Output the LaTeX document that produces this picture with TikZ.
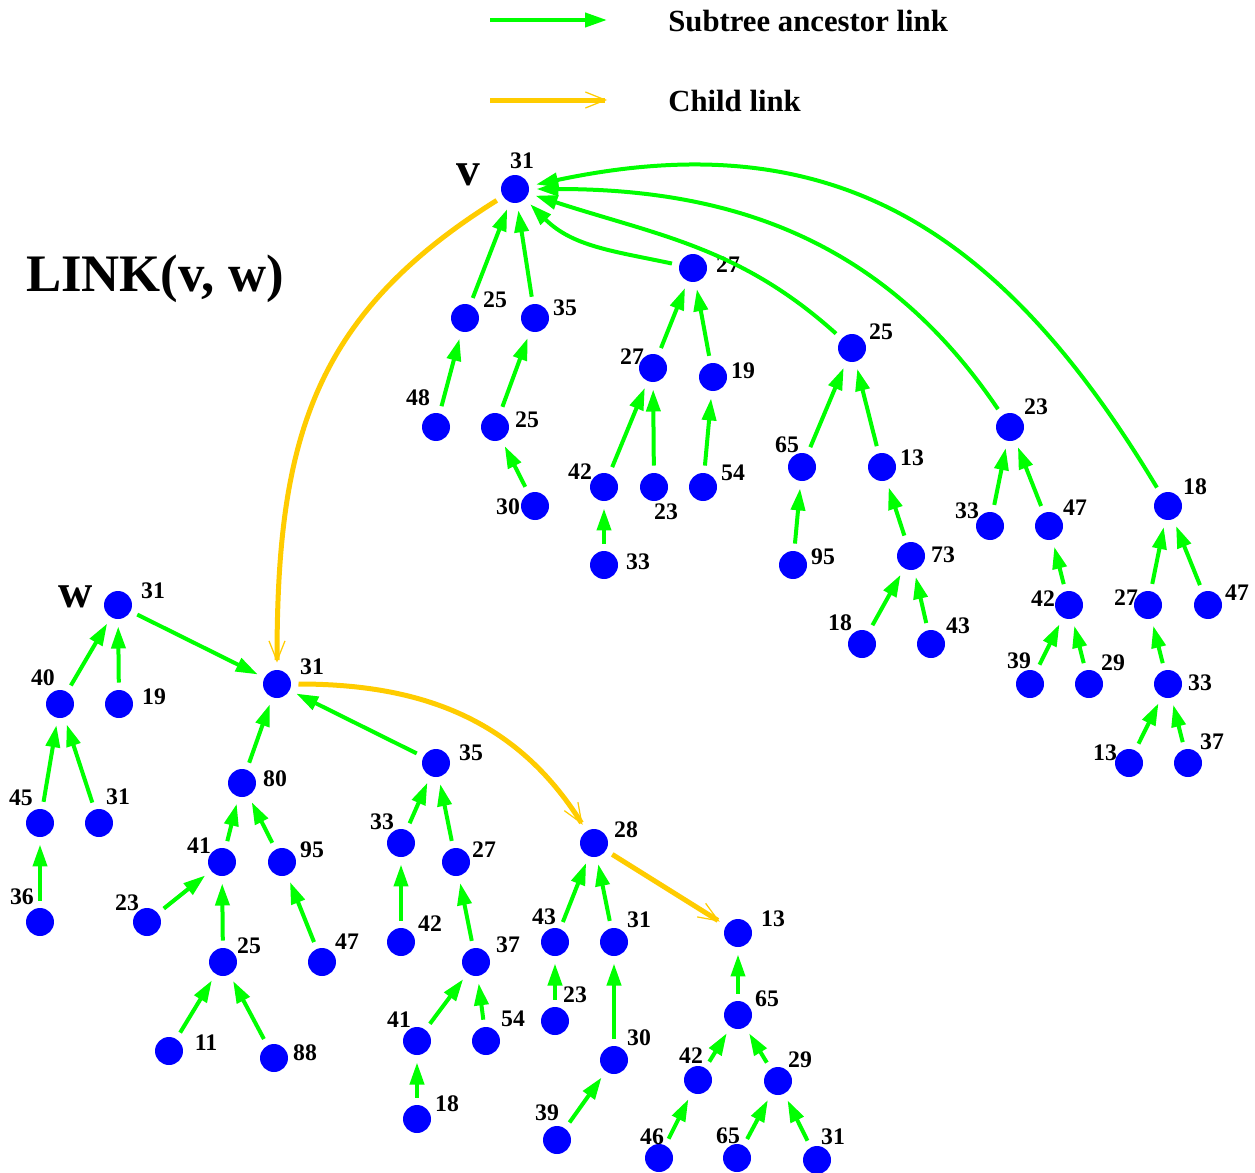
\documentclass[tikz,border=0pt]{standalone}
\usepackage{fontspec}
\setmainfont{Liberation Serif}
\usetikzlibrary{arrows.meta}
\definecolor{linkgreen}{RGB}{0,255,0}
\definecolor{linkgold}{RGB}{255,204,0}
\definecolor{nodeblue}{RGB}{0,0,255}

\begin{document}
\begin{tikzpicture}[x=0.02cm, y=-0.02cm,
  vx/.style={circle, fill=nodeblue, minimum size=0.56cm, inner sep=0pt, outer sep=0.15cm},
  num/.style={font=\fontsize{13.5}{15}\selectfont\bfseries, inner sep=0pt},
  big/.style={font=\fontsize{27}{30}\selectfont\bfseries, inner sep=0pt},
  leg/.style={font=\fontsize{17.5}{20}\selectfont\bfseries, anchor=west, inner sep=0pt},
  anc/.style={-{Triangle[length=0.44cm, width=0.28cm]}, linkgreen, line width=0.08cm},
  chl/.style={-{Straight Barb[length=0.4cm, width=0.32cm, line width=0.7pt]}, linkgold, line width=0.1cm}]
\useasboundingbox (0,0) rectangle (1255,1173);
% legend
\coordinate (la) at (490,20); \coordinate (lb) at (607,20);
\draw[anc] (la) -- (lb);
\node[leg] (lt1) at (668,21) {Subtree ancestor link};
\coordinate (lc) at (490,100); \coordinate (ld) at (607,100);
\draw[chl] (lc) -- (ld);
\node[leg] (lt2) at (668,101) {Child link};
\node[font=\fontsize{30}{34}\selectfont\bfseries, anchor=base, inner sep=0pt] (title) at (155,291) {LINK(v, w)};
% tree of v
\foreach \n/\x/\y/\lx/\ly/\t in {v/515/189/522/161/31,
  a1/465/318/495/300/25, a2/535/318/565/308/35, a3/436/427/418/398/48,
  a4/495/427/527/420/25, a5/535/506/508/507/30,
  b1/693/268/728/265/27, b2/653/368/632/357/27, b3/713/377/743/371/19,
  b4/604/487/580/472/42, b5/654/487/666/512/23, b6/703/487/733/473/54,
  b7/604/565/638/562/33,
  c1/852/348/881/332/25, c2/802/467/787/445/65, c3/882/467/912/458/13,
  c4/793/565/823/557/95, c5/911/556/943/555/73, c6/862/644/840/623/18,
  c7/931/644/958/626/43,
  d1/1010/427/1036/407/23, d2/990/526/967/511/33, d3/1049/526/1075/508/47,
  d4/1069/605/1043/599/42, d5/1030/684/1019/661/39, d6/1089/684/1113/663/29,
  e1/1168/506/1195/487/18, e2/1148/605/1126/598/27, e3/1208/605/1237/593/47,
  e4/1168/684/1200/683/33, e5/1129/763/1105/753/13, e6/1188/763/1212/742/37}{
  \node[vx] (\n) at (\x,\y) {};
  \node[num] (\n-l) at (\lx,\ly) {\t};
}
\node[big] (v-name) at (468,175) {v};
% tree of w
\foreach \n/\x/\y/\lx/\ly/\t in {w/118/605/153/591/31,
  f1/60/704/43/678/40, f2/119/704/154/697/19, f3/40/823/21/798/45,
  f4/99/823/118/797/31, f5/40/922/22/897/36,
  r/277/684/312/667/31,
  g1/242/783/275/779/80, g2/222/862/199/846/41, g3/282/862/312/850/95,
  g4/147/922/127/903/23, g5/223/962/249/946/25, g6/322/962/347/942/47,
  g7/169/1051/206/1043/11, g8/274/1058/305/1053/88,
  h1/436/763/471/753/35, h2/401/843/382/822/33, h3/456/862/484/850/27,
  h4/401/942/430/924/42, h5/476/962/508/945/37, h6/417/1041/399/1020/41,
  h7/486/1041/513/1019/54, h8/417/1119/447/1104/18,
  t1/594/843/626/830/28, t2/555/942/544/917/43, t3/614/942/639/920/31,
  t4/555/1021/575/995/23, t5/614/1060/639/1038/30, t6/557/1140/547/1113/39,
  u1/738/933/773/919/13, u2/738/1015/767/999/65, u3/698/1080/691/1056/42,
  u4/778/1081/800/1060/29, u5/659/1158/652/1137/46, u6/737/1158/728/1136/65,
  u7/817/1160/833/1137/31}{
  \node[vx] (\n) at (\x,\y) {};
  \node[num] (\n-l) at (\lx,\ly) {\t};
}
\node[big] (w-name) at (76,597) {w};
% subtree ancestor links
\foreach \a/\b in {a1/v, a2/v, a3/a1, a4/a2, a5/a4, b2/b1, b3/b1, b4/b2, b5/b2,
  b6/b3, b7/b4, c2/c1, c3/c1, c4/c2, c5/c3, c6/c5, c7/c5, d2/d1, d3/d1, d4/d3,
  d5/d4, d6/d4, e2/e1, e3/e1, e4/e2, e5/e4, e6/e4,
  f1/w, f2/w, f3/f1, f4/f1, f5/f3, w/r, g1/r, h1/r, g2/g1, g3/g1, g4/g2, g5/g2,
  g6/g3, g7/g5, g8/g5, h2/h1, h3/h1, h4/h2, h5/h3, h6/h5, h7/h5, h8/h6,
  t2/t1, t3/t1, t4/t2, t5/t3, t6/t5, u2/u1, u3/u2, u4/u2, u5/u3, u6/u4, u7/u4}
  \draw[anc] (\a) -- (\b);
\draw[anc] (b1) to[out=168, in=-45] (v);
\draw[anc] (c1) to[out=138, in=-18] (v);
\draw[anc] (d1) to[out=124, in=0] (v);
\draw[anc] (e1) to[out=121, in=12, looseness=1.12] (v);
% child links
\draw[chl] (v) to[out=212, in=90, looseness=1.1] (r);
\draw[chl] (r) to[out=0, in=122] (t1);
\draw[chl] (t1) -- (u1);
\end{tikzpicture}
\end{document}
